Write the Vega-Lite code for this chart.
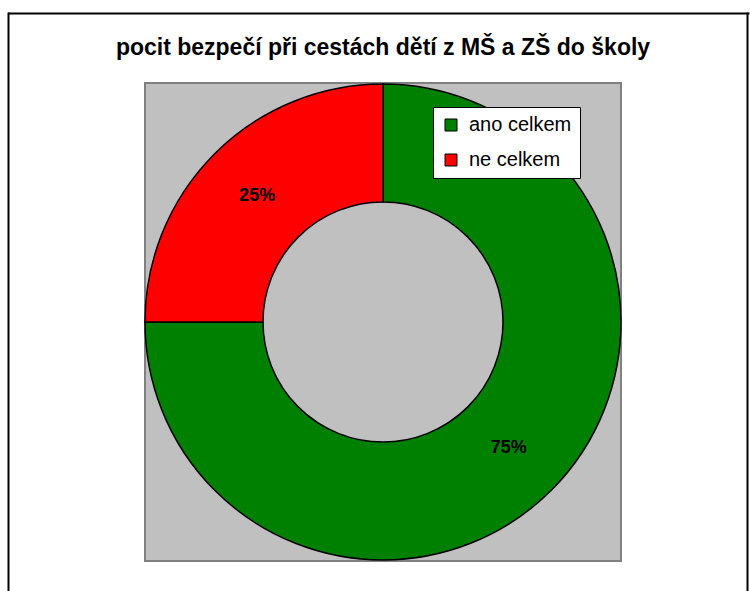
{
  "$schema": "https://vega.github.io/schema/vega-lite/v6.json",
  "width": 476,
  "height": 478,
  "autosize": {"type": "none"},
  "padding": {"left": 145, "top": 83, "right": 129, "bottom": 30},
  "background": "white",
  "title": {
    "text": "pocit bezpečí při cestách dětí z MŠ a ZŠ do školy",
    "font": "Liberation Sans",
    "fontSize": 23,
    "fontWeight": "bold",
    "color": "black",
    "anchor": "middle",
    "offset": -47
  },
  "data": {
    "values": [
      {"kategorie": "ano celkem", "podil": 75, "popisek": "75%"},
      {"kategorie": "ne celkem", "podil": 25, "popisek": "25%"}
    ]
  },
  "layer": [
    {
      "mark": {"type": "arc", "outerRadius": 238, "innerRadius": 120, "stroke": "black", "strokeWidth": 1.5},
      "encoding": {
        "theta": {"field": "podil", "type": "quantitative", "stack": true},
        "order": {"field": "podil", "type": "quantitative", "sort": "descending"},
        "color": {
          "field": "kategorie",
          "type": "nominal",
          "scale": {"domain": ["ano celkem", "ne celkem"], "range": ["#008000", "#ff0000"]},
          "legend": {
            "title": null,
            "orient": "none",
            "legendX": 288,
            "legendY": 24,
            "fillColor": "white",
            "strokeColor": "black",
            "padding": 8,
            "symbolType": "square",
            "symbolSize": 144,
            "symbolStrokeColor": "black",
            "symbolStrokeWidth": 1,
            "labelFont": "Liberation Sans",
            "labelFontSize": 20,
            "labelColor": "black",
            "labelOffset": 8,
            "rowPadding": 15,
            "cornerRadius": 0
          }
        }
      }
    },
    {
      "mark": {"type": "text", "radius": 178, "font": "Liberation Sans", "fontSize": 18, "fontWeight": "bold", "color": "black"},
      "encoding": {
        "theta": {"field": "podil", "type": "quantitative", "stack": true},
        "order": {"field": "podil", "type": "quantitative", "sort": "descending"},
        "detail": {"field": "kategorie", "type": "nominal"},
        "text": {"field": "popisek", "type": "nominal"}
      }
    },
    {
      "mark": {"type": "point", "opacity": 0},
      "encoding": {
        "x": {
          "field": "podil",
          "type": "quantitative",
          "scale": {"range": [-137, 604]},
          "axis": {"orient": "top", "offset": 70, "domainColor": "black", "domainWidth": 2, "ticks": false, "labels": false, "grid": false, "title": null}
        },
        "y": {
          "field": "podil",
          "type": "quantitative",
          "scale": {"range": [620, -71]},
          "axis": {"orient": "left", "offset": 137, "domainColor": "black", "domainWidth": 2, "ticks": false, "labels": false, "grid": false, "title": null}
        }
      }
    },
    {
      "mark": {"type": "point", "opacity": 0},
      "encoding": {
        "y": {
          "field": "podil",
          "type": "quantitative",
          "scale": {"range": [620, -71]},
          "axis": {"orient": "right", "offset": 126, "domainColor": "black", "domainWidth": 2, "ticks": false, "labels": false, "grid": false, "title": null}
        }
      }
    }
  ],
  "resolve": {"scale": {"y": "independent"}, "axis": {"y": "independent"}},
  "config": {
    "view": {"fill": "#c0c0c0", "stroke": "#808080", "strokeWidth": 2}
  }
}
